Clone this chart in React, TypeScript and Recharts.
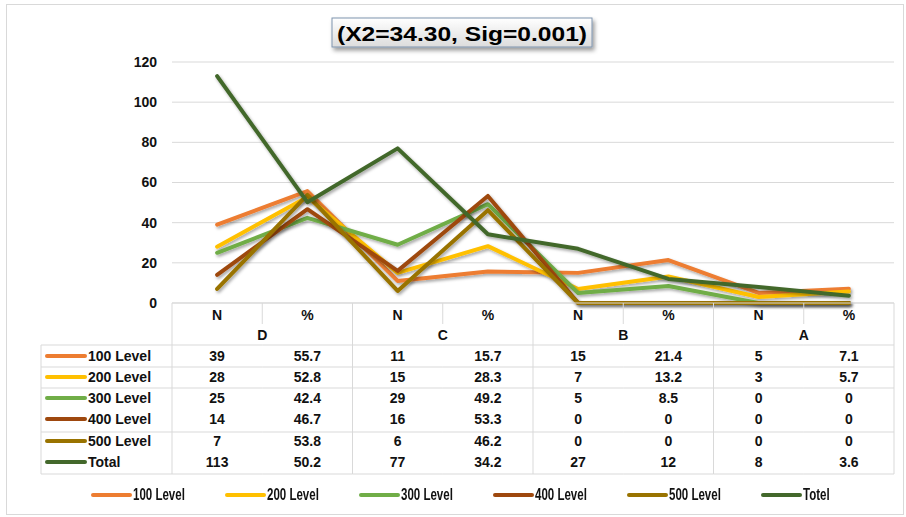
import React from "react";
import { CartesianGrid, Legend, Line, LineChart, XAxis, YAxis } from "recharts";

const groups = ["D", "C", "B", "A"];
const columns = ["N", "%", "N", "%", "N", "%", "N", "%"];
const seriesKeys = ["l100", "l200", "l300", "l400", "l500", "total"];
const seriesNames = ["100 Level", "200 Level", "300 Level", "400 Level", "500 Level", "Total"];
const legendNames = ["100 Level", "200 Level", "300 Level", "400 Level", "500 Level", "Totel"];
const seriesColors = ["#ED7D31", "#FFC000", "#70AD47", "#9E480E", "#997300", "#43682B"];

const level100 = [39, 55.7, 11, 15.7, 15, 21.4, 5, 7.1];
const level200 = [28, 52.8, 15, 28.3, 7, 13.2, 3, 5.7];
const level300 = [25, 42.4, 29, 49.2, 5, 8.5, 0, 0];
const level400 = [14, 46.7, 16, 53.3, 0, 0, 0, 0];
const level500 = [7, 53.8, 6, 46.2, 0, 0, 0, 0];
const total = [113, 50.2, 77, 34.2, 27, 12, 8, 3.6];
const seriesValues = [level100, level200, level300, level400, level500, total];

const yTicks = [0, 20, 40, 60, 80, 100, 120];
const title = "(X2=34.30, Sig=0.001)";

const data = columns.map((col, i) => {
  const row: Record<string, string | number> = { key: `${groups[Math.floor(i / 2)]}-${col}-${i}` };
  seriesKeys.forEach((k, s) => {
    row[k] = seriesValues[s][i];
  });
  return row;
});

const CHART_W = 906;
const CHART_H = 517;
const MARGIN = { top: 62, right: 12, left: 112, bottom: 10 };
const YAXIS_W = 60;
const PLOT_W = CHART_W - MARGIN.left - MARGIN.right - YAXIS_W;
const BAND = PLOT_W / columns.length;

const GRID = "#d9d9d9";
const FONT = "'Liberation Sans', Arial, sans-serif";
const TEXT = "#111";
// table layout, offsets below the x axis line
const ROW_TEXT = [53, 74, 95, 116, 138, 159];
const ROW_LINES = [42, 64, 85, 129, 171];
const TABLE_BOTTOM = 171;
const LABEL_COL = 131;

const cellText = { fontFamily: FONT, fontSize: 14, fontWeight: 700, fill: TEXT } as const;

function TableTick(props: any) {
  const { x, y, index } = props;
  const left = x - BAND / 2;
  const right = x + BAND / 2;
  const groupStart = index % 2 === 0;
  const last = index === columns.length - 1;
  return (
    <g>
      <line x1={left} x2={left} y1={y} y2={groupStart ? y + TABLE_BOTTOM : y + 21} stroke={GRID} />
      {last && <line x1={right} x2={right} y1={y} y2={y + TABLE_BOTTOM} stroke={GRID} />}
      {ROW_LINES.map((o) => (
        <line key={o} x1={left} x2={right} y1={y + o} y2={y + o} stroke={GRID} />
      ))}
      <text x={x} y={y + 12} textAnchor="middle" dominantBaseline="central" {...cellText}>
        {columns[index]}
      </text>
      {groupStart && (
        <text x={right} y={y + 32} textAnchor="middle" dominantBaseline="central" {...cellText}>
          {groups[index / 2]}
        </text>
      )}
      {seriesValues.map((vals, s) => (
        <text key={s} x={x} y={y + ROW_TEXT[s]} textAnchor="middle" dominantBaseline="central" {...cellText}>
          {vals[index]}
        </text>
      ))}
      {index === 0 && (
        <g>
          <line x1={left - LABEL_COL} x2={left - LABEL_COL} y1={y + 42} y2={y + TABLE_BOTTOM} stroke={GRID} />
          {ROW_LINES.map((o) => (
            <line key={o} x1={left - LABEL_COL} x2={left} y1={y + o} y2={y + o} stroke={GRID} />
          ))}
          {seriesNames.map((n, s) => (
            <g key={n}>
              <line
                x1={left - LABEL_COL + 6}
                x2={left - LABEL_COL + 44}
                y1={y + ROW_TEXT[s]}
                y2={y + ROW_TEXT[s]}
                stroke={seriesColors[s]}
                strokeWidth={4}
                strokeLinecap="round"
              />
              <text x={left - LABEL_COL + 47} y={y + ROW_TEXT[s]} dominantBaseline="central" {...cellText}>
                {n}
              </text>
            </g>
          ))}
        </g>
      )}
    </g>
  );
}

function LegendContent() {
  return (
    <div style={{ position: "relative", width: CHART_W, height: 24 }}>
      {legendNames.map((n, i) => (
        <div
          key={n}
          style={{ position: "absolute", left: 91 + i * 134, top: 0, height: 24, display: "flex", alignItems: "center" }}
        >
          <span style={{ display: "inline-block", width: 41, height: 4, borderRadius: 2, background: seriesColors[i] }} />
          <span
            style={{
              display: "inline-block",
              fontFamily: FONT,
              fontSize: 16,
              fontWeight: 700,
              color: "#111",
              marginLeft: 1,
              transform: "scaleX(0.72)",
              transformOrigin: "left center",
              whiteSpace: "nowrap",
            }}
          >
            {n}
          </span>
        </div>
      ))}
    </div>
  );
}

export default function App() {
  return (
    <div style={{ position: "absolute", left: 0, top: 0, width: CHART_W, height: CHART_H, background: "#fff" }}>
      <div
        style={{
          position: "absolute",
          left: 6,
          top: 4,
          width: 898,
          height: 511,
          border: `1px solid ${GRID}`,
          boxSizing: "border-box",
        }}
      />
      <LineChart width={CHART_W} height={CHART_H} data={data} margin={MARGIN}>
        <defs>
          <filter id="lineShadow" x="-10%" y="-10%" width="120%" height="130%">
            <feDropShadow dx="1.5" dy="2" stdDeviation="1.5" floodColor="#000" floodOpacity="0.35" />
          </filter>
        </defs>
        <CartesianGrid vertical={false} stroke={GRID} />
        <XAxis
          dataKey="key"
          height={180}
          interval={0}
          padding={{ left: BAND / 2, right: BAND / 2 }}
          tickSize={0}
          tickMargin={0}
          tickLine={false}
          axisLine={{ stroke: GRID }}
          tick={<TableTick />}
        />
        <YAxis
          width={YAXIS_W}
          domain={[0, 120]}
          ticks={yTicks}
          axisLine={false}
          tickLine={false}
          tickSize={0}
          tickMargin={15}
          tick={{ fill: TEXT, fontSize: 14, fontWeight: 700, fontFamily: FONT }}
        />
        <Legend content={<LegendContent />} verticalAlign="bottom" wrapperStyle={{ left: 0, width: CHART_W }} />
        {seriesKeys.map((k, s) => (
          <Line
            key={k}
            dataKey={k}
            name={legendNames[s]}
            type="linear"
            stroke={seriesColors[s]}
            strokeWidth={4}
            strokeLinejoin="round"
            strokeLinecap="round"
            dot={false}
            activeDot={false}
            filter="url(#lineShadow)"
            isAnimationActive={false}
          />
        ))}
      </LineChart>
      <svg style={{ position: "absolute", left: 326, top: 14 }} width={276} height={42}>
        <defs>
          <linearGradient id="titleFill" x1="0" y1="0" x2="0" y2="1">
            <stop offset="0" stopColor="#ffffff" />
            <stop offset="1" stopColor="#dcdcdc" />
          </linearGradient>
          <filter id="titleShadow" x="-10%" y="-20%" width="120%" height="160%">
            <feDropShadow dx="2" dy="3" stdDeviation="2" floodColor="#000" floodOpacity="0.4" />
          </filter>
        </defs>
        <rect x={6} y={4} width={260} height={29} fill="url(#titleFill)" stroke="#7f93ad" filter="url(#titleShadow)" />
        <text
          x={136}
          y={19}
          textAnchor="middle"
          dominantBaseline="central"
          textLength={250}
          lengthAdjust="spacingAndGlyphs"
          style={{ fontFamily: FONT, fontSize: 21, fontWeight: 700, fill: "#000" }}
        >
          {title}
        </text>
      </svg>
    </div>
  );
}
